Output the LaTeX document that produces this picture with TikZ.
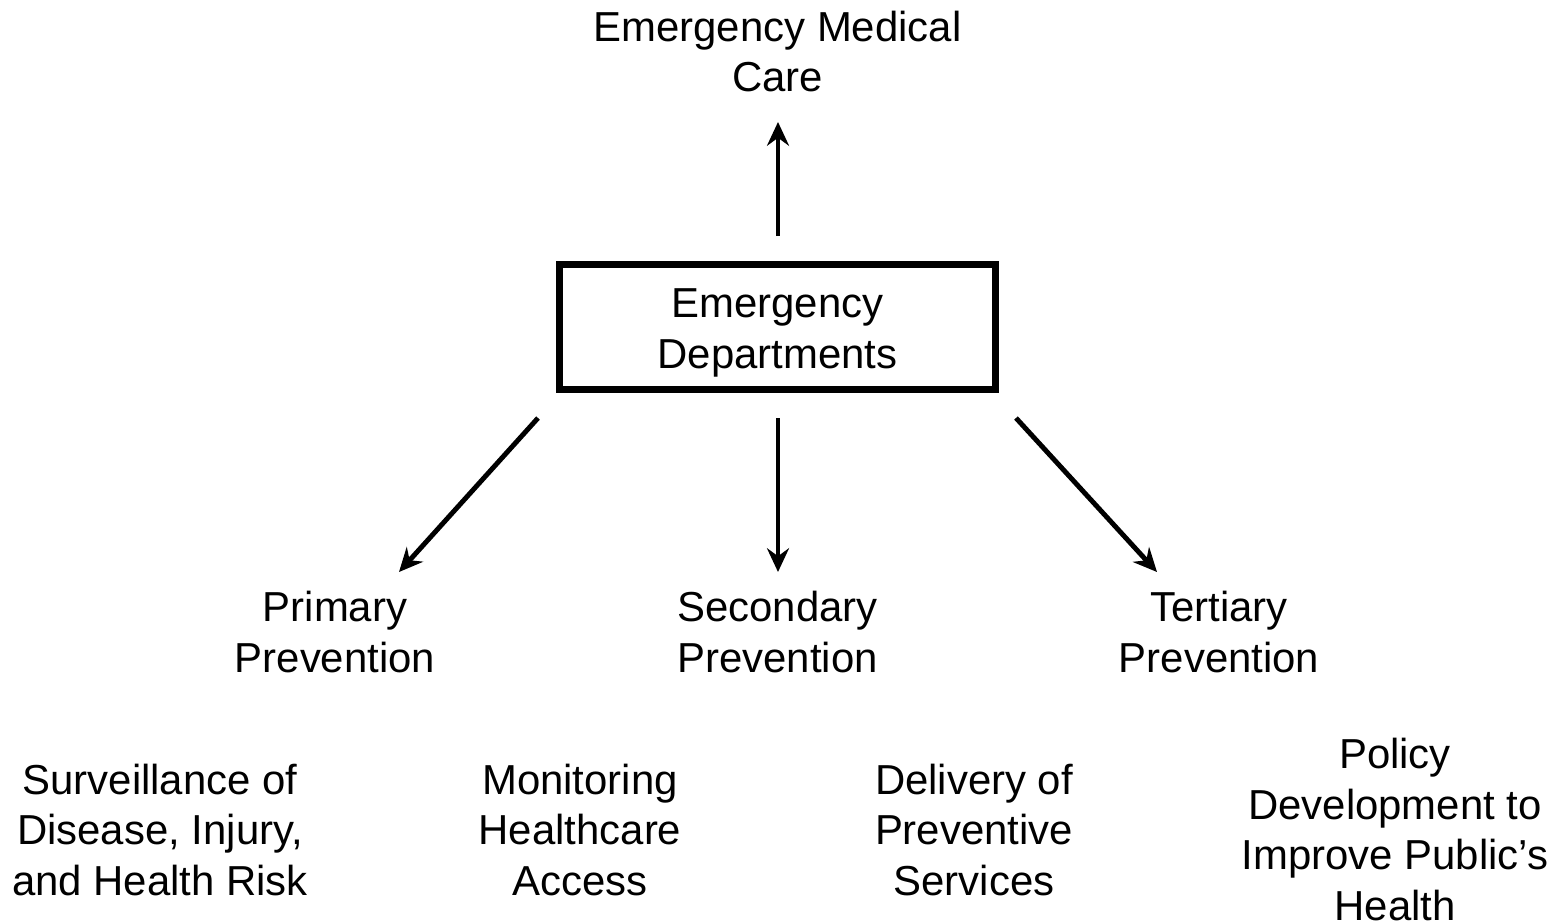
\documentclass[tikz,border=0pt]{standalone}
\usepackage{fontspec}
\setmainfont{Liberation Sans}
\usetikzlibrary{arrows.meta,positioning}
\tikzset{every picture/.style={line width=2.8pt}}
\tikzstyle{lbl}=[align=center,inner sep=0pt,anchor=base,font=\fontsize{23.85}{28.7}\selectfont]
\tikzstyle{edbox}=[draw,line width=4pt,minimum width=8.72cm,minimum height=2.5cm]

\begin{document}
\begin{tikzpicture}[x=0.02cm,y=-0.02cm]
\useasboundingbox (0,0) rectangle (1561,922);
\node[lbl] (EMC) at (777.5,92) {Emergency Medical\\Care};
\node[edbox,lbl,anchor=center] (ED) at (777.5,327) {\rule{0pt}{0.82cm}Emergency\\Departments};
\node[lbl] (PP) at (335,672) {Primary\\Prevention};
\node[lbl] (SP) at (777.5,672) {Secondary\\Prevention};
\node[lbl] (TP) at (1219,672) {Tertiary\\Prevention};
\node[lbl] (SV) at (160,895) {Surveillance of\\Disease, Injury,\\and Health Risk};
\node[lbl] (MH) at (580,895) {Monitoring\\Healthcare\\Access};
\node[lbl] (DS) at (974,895) {Delivery of\\Preventive\\Services};
\node[lbl] (PD) at (1395,920) {Policy\\Development to\\Improve Public’s\\Health};
\coordinate (EDn) at (778,236);
\coordinate (EMCs) at (778,122);
\coordinate (EDsw) at (538,418);
\coordinate (PPn) at (399,572);
\coordinate (EDs) at (778,418);
\coordinate (SPn) at (778,572);
\coordinate (EDse) at (1016,418);
\coordinate (TPn) at (1157,572);
\path[-{Stealth[length=13.5pt,width=12.5pt,inset=4.5pt]}]
(EDn) edge (EMCs)
(EDsw) edge (PPn)
(EDs) edge (SPn)
(EDse) edge (TPn);
\end{tikzpicture}
\end{document}
